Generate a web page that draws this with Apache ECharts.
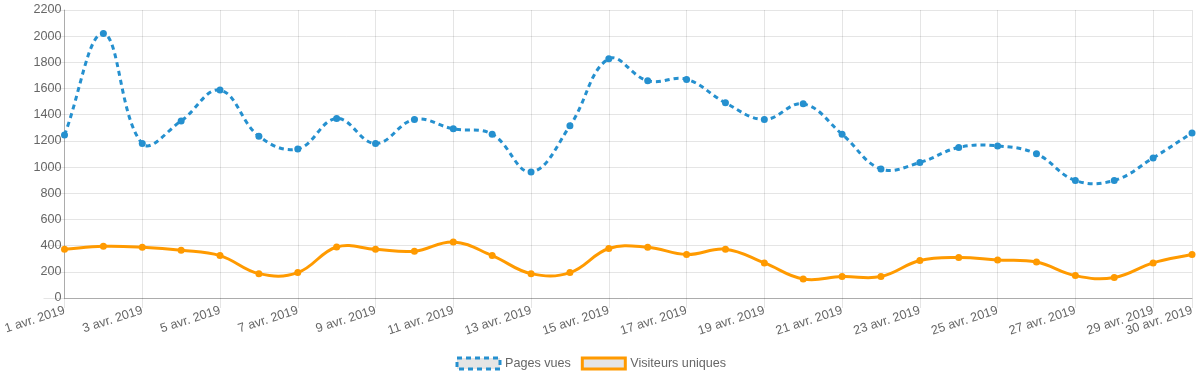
<!DOCTYPE html>
<html>
<head>
<meta charset="utf-8">
<script src="https://cdn.jsdelivr.net/npm/echarts@6/dist/echarts.min.js"></script>
<style>
  html, body { margin: 0; padding: 0; background: #fff; }
  #chart { width: 1200px; height: 376px; }
</style>
</head>
<body>
<div id="chart"></div>
<script>
const days = [];
for (let d = 1; d <= 30; d++) days.push(d + " avr. 2019");

const pagesVues = [1245, 2020, 1180, 1353, 1588, 1236, 1139, 1371, 1180, 1364,
  1292, 1251, 963, 1315, 1827, 1659, 1670, 1491, 1364, 1483,
  1251, 986, 1035, 1150, 1162, 1101, 898, 898, 1070, 1261];

const visiteurs = [372, 395, 388, 365, 324, 186, 194, 390, 372, 357,
  428, 324, 186, 194, 378, 388, 332, 372, 268, 145,
  164, 164, 286, 309, 291, 275, 171, 156, 268, 332];

const blue = "#2590cf";
const orange = "#ff9a00";
const font = "'Liberation Sans', Arial, sans-serif";
const fs = 12.6;
const dash = [5, 4];
const last = days.length - 1;

// Chart.js style autoskip: every 2nd label plus the last one
const showTick = (i) => i % 2 === 0 || i === last;

// cubic curve through the points, same tension spline as Chart.js (0.4)
function splinePath(api, values, t) {
  const p = values.map((v, i) => api.coord([i, v]));
  const before = [], after = [];
  for (let i = 0; i < p.length; i++) {
    const prev = p[i - 1] || p[i];
    const cur = p[i];
    const next = p[i + 1] || p[i];
    const d01 = Math.hypot(cur[0] - prev[0], cur[1] - prev[1]);
    const d12 = Math.hypot(next[0] - cur[0], next[1] - cur[1]);
    let s01 = d01 / (d01 + d12);
    let s12 = d12 / (d01 + d12);
    if (isNaN(s01)) s01 = 0;
    if (isNaN(s12)) s12 = 0;
    const fa = t * s01, fb = t * s12;
    before.push([cur[0] - fa * (next[0] - prev[0]), cur[1] - fa * (next[1] - prev[1])]);
    after.push([cur[0] + fb * (next[0] - prev[0]), cur[1] + fb * (next[1] - prev[1])]);
  }
  let d = "M" + p[0][0] + "," + p[0][1];
  for (let i = 1; i < p.length; i++) {
    d += "C" + after[i - 1][0] + "," + after[i - 1][1] + " " +
      before[i][0] + "," + before[i][1] + " " + p[i][0] + "," + p[i][1];
  }
  return d;
}

function curveSeries(id, values, color, lineDash) {
  return {
    id: id,
    type: "custom",
    data: [[0, 0]],
    z: 2,
    silent: true,
    renderItem: (params, api) => ({
      type: "path",
      shape: { pathData: splinePath(api, values, 0.4) },
      style: { fill: "none", stroke: color, lineWidth: 3, lineDash: lineDash }
    })
  };
}

const labelStyle = { rotate: 18, color: "#666", fontSize: fs, margin: 12 };

const chart = echarts.init(document.getElementById("chart"));

chart.setOption({
  animation: false,
  textStyle: { fontFamily: font },
  grid: { left: 64.5, right: 8, top: 10, bottom: 78 },
  legend: {
    left: 455.5,
    top: 356.5,
    padding: 0,
    icon: "rect",
    itemWidth: 43,
    itemHeight: 11,
    itemGap: 10,
    textStyle: { color: "#666", fontSize: fs, fontFamily: font },
    data: [
      {
        name: "Pages vues",
        itemStyle: { color: "rgba(0,0,0,0.1)", borderColor: blue, borderWidth: 3, borderType: dash }
      },
      {
        name: "Visiteurs uniques",
        itemStyle: { color: "rgba(0,0,0,0.1)", borderColor: orange, borderWidth: 3 }
      }
    ]
  },
  xAxis: [
    {
      type: "category",
      data: days,
      boundaryGap: false,
      axisLine: { lineStyle: { color: "rgba(0,0,0,0.25)", width: 1 } },
      axisTick: { show: true, length: 10, interval: (i) => showTick(i), lineStyle: { color: "rgba(0,0,0,0.1)" } },
      axisLabel: Object.assign({ interval: (i) => i % 2 === 0 }, labelStyle),
      splitLine: { show: true, interval: (i) => showTick(i), lineStyle: { color: "rgba(0,0,0,0.1)" } }
    },
    {
      // second copy only for the last label, which Chart.js squeezes in
      type: "category",
      data: days,
      position: "bottom",
      boundaryGap: false,
      axisLine: { show: false },
      axisTick: { show: false },
      splitLine: { show: false },
      axisLabel: Object.assign({ interval: (i) => i === last, showMinLabel: false, showMaxLabel: true }, labelStyle)
    }
  ],
  yAxis: {
    type: "value",
    min: 0,
    max: 2200,
    interval: 200,
    axisLine: { show: true, lineStyle: { color: "rgba(0,0,0,0.25)" } },
    axisTick: { show: true, length: 21, lineStyle: { color: "rgba(0,0,0,0.1)" } },
    axisLabel: { color: "#666", fontSize: fs, margin: 3, formatter: (v) => String(v) },
    splitLine: { lineStyle: { color: "rgba(0,0,0,0.1)" } }
  },
  series: [
    curveSeries("pvCurve", pagesVues, blue, dash),
    curveSeries("visCurve", visiteurs, orange, null),
    {
      name: "Pages vues",
      type: "line",
      data: pagesVues,
      z: 3,
      symbol: "circle",
      symbolSize: 7,
      showAllSymbol: true,
      itemStyle: { color: blue },
      lineStyle: { opacity: 0 }
    },
    {
      name: "Visiteurs uniques",
      type: "line",
      data: visiteurs,
      z: 3,
      symbol: "circle",
      symbolSize: 7,
      showAllSymbol: true,
      itemStyle: { color: orange },
      lineStyle: { opacity: 0 }
    }
  ]
});
</script>
</body>
</html>
